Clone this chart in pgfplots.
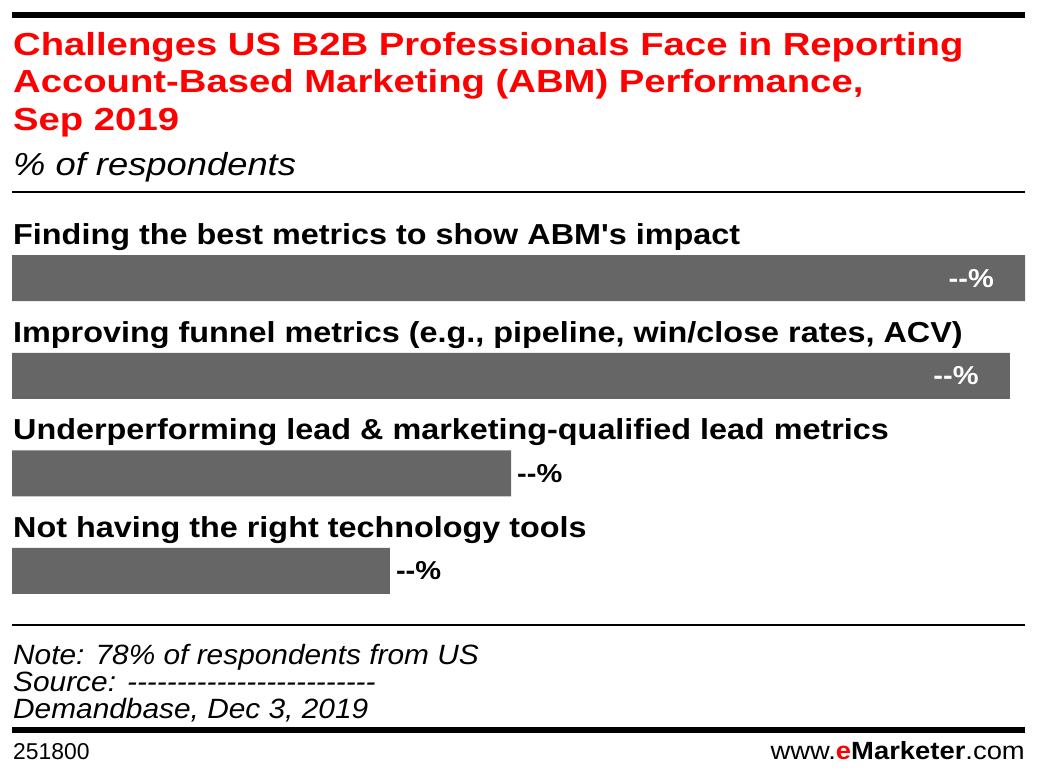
\documentclass[border=0pt]{standalone}
\usepackage{pgfplots}
\pgfplotsset{compat=1.18}
\usepackage{fontspec}
\setmainfont{Liberation Sans}[Ligatures=TeXOff]
\newfontfamily\titlefont{Liberation Sans}[FakeStretch=1.2,Ligatures=TeXOff]
\newfontfamily\labelfont{Liberation Sans}[FakeStretch=1.12,Ligatures=TeXOff]
\newfontfamily\subfont{Liberation Sans}[FakeStretch=1.14,Ligatures=TeXOff]
\newfontfamily\notefont{Liberation Sans}[FakeStretch=1.07,Ligatures=TeXOff]
\newfontfamily\footfont{Liberation Sans}[FakeStretch=1.1,Ligatures=TeXOff]
\definecolor{emred}{HTML}{FF0000}
\definecolor{bargray}{HTML}{666666}
\begin{document}
\begin{tikzpicture}
\begin{scope}[x=1bp,y=1bp]
\path[use as bounding box] (0,0) rectangle (1038,780);
% top rule
\fill[black] (12,780-12) rectangle (1025,780-18);
% title
\node[anchor=base west,inner sep=0,text=emred] at (13,780-56) {\titlefont\fontsize{32}{38}\selectfont\bfseries Challenges US B2B Professionals Face in Reporting};
\node[anchor=base west,inner sep=0,text=emred] at (13,780-93) {\titlefont\fontsize{32}{38}\selectfont\bfseries Account-Based Marketing (ABM) Performance,};
\node[anchor=base west,inner sep=0,text=emred] at (13,780-131) {\titlefont\fontsize{32}{38}\selectfont\bfseries Sep 2019};
\node[anchor=base west,inner sep=0] at (13,780-176) {\subfont\fontsize{32}{36}\selectfont\itshape \% of respondents};
\fill[black] (12,780-191.5) rectangle (1025,780-193);
% bottom rules
\fill[black] (12,780-624.5) rectangle (1025,780-626);
\node[anchor=base west,inner sep=0] at (13,780-665) {\notefont\fontsize{28}{28}\selectfont\itshape Note: 78\% of respondents from US};
\node[anchor=base west,inner sep=0] at (13,780-692) {\notefont\fontsize{28}{28}\selectfont\itshape Source: -------------------------};
\node[anchor=base west,inner sep=0] at (13,780-719) {\notefont\fontsize{28}{28}\selectfont\itshape Demandbase, Dec 3, 2019};
\fill[black] (12,780-727.5) rectangle (1025,780-733.5);
\node[anchor=base west,inner sep=0] at (13,780-760) {\fontsize{23}{23}\selectfont 251800};
\node[anchor=base east,inner sep=0] at (1025,780-760) {\footfont\fontsize{25}{25}\selectfont www.\textbf{\textcolor{emred}{e}Marketer}.com};
\end{scope}
\begin{axis}[
  at={(12bp,160.2bp)}, anchor=south west,
  scale only axis, width=1013bp, height=390.4bp,
  xbar, bar width=46bp,
  xmin=0, xmax=100, ymin=-0.5, ymax=3.5,
  y dir=reverse,
  hide axis,
  clip=false,
]
\addplot[fill=bargray, draw=none, bar shift=0pt] coordinates {(100,0) (98.5,1) (49.26,2) (37.3,3)};
\node[anchor=base west,inner sep=0,yshift=33.5bp,xshift=1bp] at (axis cs:0,0) {\labelfont\fontsize{29}{29}\selectfont\bfseries Finding the best metrics to show ABM's impact};
\node[anchor=base west,inner sep=0,yshift=33.5bp,xshift=1bp] at (axis cs:0,1) {\labelfont\fontsize{29}{29}\selectfont\bfseries Improving funnel metrics (e.g., pipeline, win/close rates, ACV)};
\node[anchor=base west,inner sep=0,yshift=33.5bp,xshift=1bp] at (axis cs:0,2) {\labelfont\fontsize{29}{29}\selectfont\bfseries Underperforming lead \& marketing-qualified lead metrics};
\node[anchor=base west,inner sep=0,yshift=33.5bp,xshift=1bp] at (axis cs:0,3) {\labelfont\fontsize{29}{29}\selectfont\bfseries Not having the right technology tools};
\node[anchor=east,inner sep=0,xshift=-31bp,text=white] at (axis cs:100,0) {\labelfont\fontsize{26}{26}\selectfont\bfseries --\%};
\node[anchor=east,inner sep=0,xshift=-31bp,text=white] at (axis cs:98.5,1) {\labelfont\fontsize{26}{26}\selectfont\bfseries --\%};
\node[anchor=west,inner sep=0,xshift=6bp] at (axis cs:49.26,2) {\labelfont\fontsize{26}{26}\selectfont\bfseries --\%};
\node[anchor=west,inner sep=0,xshift=6bp] at (axis cs:37.3,3) {\labelfont\fontsize{26}{26}\selectfont\bfseries --\%};
\end{axis}
\end{tikzpicture}
\end{document}
